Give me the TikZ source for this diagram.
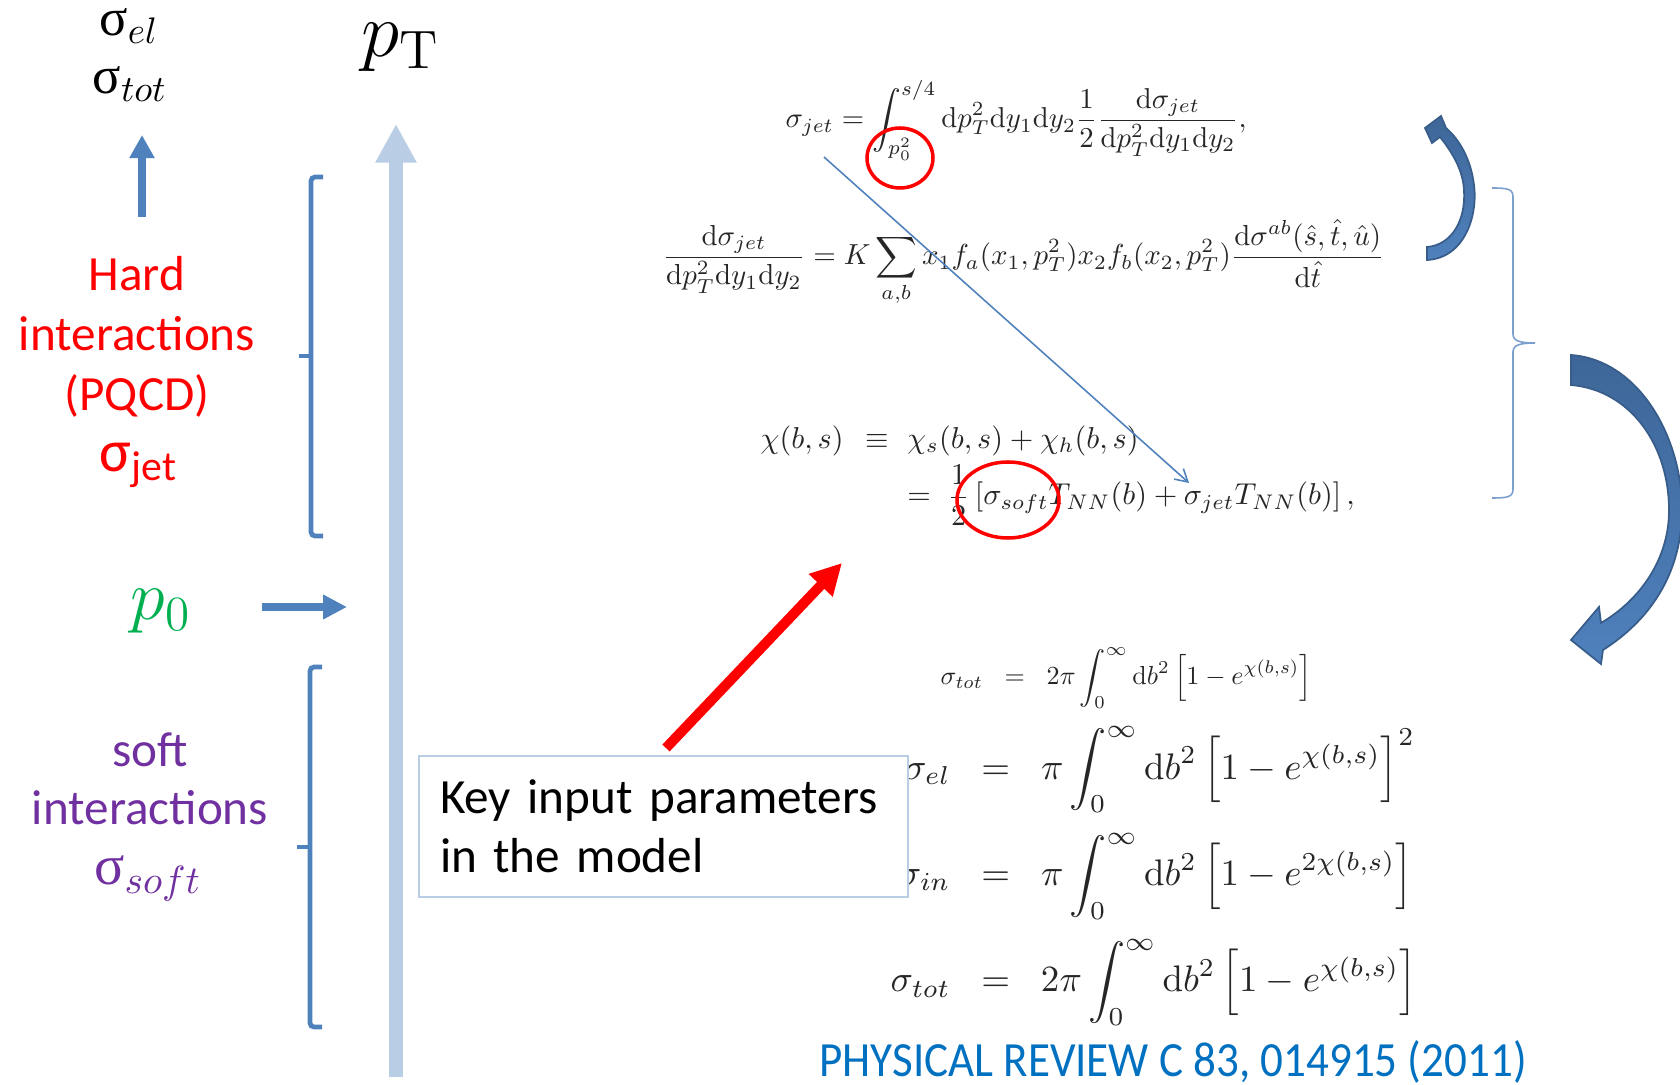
\RequirePackage{fix-cm}
\documentclass[tikz,border=0pt]{standalone}
\usepackage{amsmath}
\usepackage{graphicx}
\usepackage[no-math]{fontspec}
\setmainfont{Carlito}
\newfontfamily\grkserif{Liberation Serif}
\usetikzlibrary{arrows.meta, shapes.geometric}
\definecolor{arrowblue}{HTML}{4F81BD}
\definecolor{axisblue}{RGB}{185,205,229}
\definecolor{darkblue}{HTML}{385D8A}
\definecolor{shadeblue}{HTML}{3E6698}
\definecolor{hardred}{HTML}{FF0000}
\definecolor{softpurple}{HTML}{7030A0}
\definecolor{pzerogreen}{HTML}{00B050}
\definecolor{refblue}{HTML}{0070C0}

\begin{document}
\begin{tikzpicture}[x=0.1mm, y=-0.1mm,
    bracketline/.style={arrowblue, line width=1.35pt, rounded corners=0.4mm},
    bluearrow/.style={arrowblue, line width=2.4pt, -{Triangle[width=6.8pt,length=6.6pt]}},
    circmark/.style={ellipse, draw=hardred, line width=1pt, inner sep=0pt},
    eqnode/.style={inner sep=0pt, anchor=north west, text=black!85},
    curvearrow/.style={draw=darkblue, line width=0.5pt, top color=shadeblue, bottom color=arrowblue},
    lbl/.style={inner sep=0pt, anchor=base}]

    \useasboundingbox (0,0) rectangle (1680,1085);

    \coordinate (axisfoot) at (396,1077);
    \coordinate (axistop) at (396,124);
    \draw[axisblue, line width=3.7pt, -{Triangle[width=11pt,length=11pt]}] (axisfoot) -- (axistop);
    \node[lbl, font=\fontsize{22}{26}\selectfont] (pT) at (401,57) {$p_{\mathrm{T}}$};

    \node[lbl, font=\fontsize{15}{18}\selectfont] (sigel) at (129,36) {{\grkserif σ}$_{el}$};
    \node[lbl, font=\fontsize{15}{18}\selectfont] (sigtot) at (130,94) {{\grkserif σ}$_{tot}$};
    \coordinate (upfoot) at (142,217);
    \coordinate (uptip) at (142,135);
    \draw[bluearrow] (upfoot) -- (uptip);

    \node[inner sep=0pt, anchor=north, align=center, text=hardred, font=\fontsize{14}{17}\selectfont] (hardtxt) at (137,256) {Hard\\interactions\\(PQCD)};
    \node[lbl, text=hardred, font=\fontsize{17}{20}\selectfont] (sigjet) at (139,472) {σ$_{\text{jet}}$};
    \draw[bracketline] (323,177) -- (311,177) -- (311,536) -- (323,536);
    \draw[bracketline] (311,356) -- (299,356);

    \node[lbl, text=pzerogreen, font=\fontsize{20}{24}\selectfont] (pzero) at (161,620) {$p_0$};
    \coordinate (rightfoot) at (262,607);
    \coordinate (righttip) at (347,607);
    \draw[bluearrow, -{Triangle[width=6.6pt,length=6.8pt]}] (rightfoot) -- (righttip);

    \node[inner sep=0pt, anchor=north, align=center, text=softpurple, font=\fontsize{14}{16.5}\selectfont] (softtxt) at (150,732) {soft\\interactions};
    \node[lbl, text=softpurple, font=\fontsize{16}{19}\selectfont] (sigsoft) at (148,885) {{\grkserif σ}$_{soft}$};
    \draw[bracketline] (322,667) -- (310,667) -- (310,1027) -- (322,1027);
    \draw[bracketline] (310,847) -- (297,847);

    \node[eqnode] (eqjet) at (785,80) {\resizebox{46.1mm}{!}{$\displaystyle
      \sigma_{jet}=\int_{p_0^2}^{s/4}\mathrm{d}p_T^2\mathrm{d}y_1\mathrm{d}y_2\frac{1}{2}\frac{\mathrm{d}\sigma_{jet}}{\mathrm{d}p_T^2\mathrm{d}y_1\mathrm{d}y_2},$}};
    \node[eqnode] (eqdiff) at (662,219) {\resizebox{72.2mm}{!}{$\displaystyle
      \frac{\mathrm{d}\sigma_{jet}}{\mathrm{d}p_T^2\mathrm{d}y_1\mathrm{d}y_2}=K\sum_{a,b}x_1f_a(x_1,p_T^2)x_2f_b(x_2,p_T^2)\frac{\mathrm{d}\sigma^{ab}(\hat{s},\hat{t},\hat{u})}{\mathrm{d}\hat{t}}$}};
    \node[eqnode] (eqchi) at (760,422) {\resizebox{59.4mm}{!}{$\begin{array}{@{}l@{}l@{}}
      \chi(b,s)\;\,\equiv\;\,\, & \chi_s(b,s)+\chi_h(b,s)\\[2pt]
      & =\;\displaystyle\frac{1}{2}\,[\sigma_{soft}T_{NN}(b)+\sigma_{jet}T_{NN}(b)]\,,
      \end{array}$}};
    \node[eqnode] (eqtotA) at (940,647) {\resizebox{37.1mm}{!}{$\displaystyle
      \sigma_{tot}\;\;=\;\;2\pi\int_0^\infty\mathrm{d}b^2\left[1-e^{\chi(b,s)}\right]$}};
    \node[eqnode] (eqcross) at (890,726) {\resizebox{52.6mm}{!}{$\begin{array}{@{}r@{\;\;\;=\;\;\;}l@{}}
      \sigma_{el} & \pi\displaystyle\int_0^\infty\mathrm{d}b^2\left[1-e^{\chi(b,s)}\right]^2\\[11pt]
      \sigma_{in} & \pi\displaystyle\int_0^\infty\mathrm{d}b^2\left[1-e^{2\chi(b,s)}\right]\\[11pt]
      \sigma_{tot} & 2\pi\displaystyle\int_0^\infty\mathrm{d}b^2\left[1-e^{\chi(b,s)}\right]
      \end{array}$}};

    \node[circmark, minimum width=6.6mm, minimum height=6mm] (circA) at (900,158) {};
    \node[circmark, minimum width=10.2mm, minimum height=7.6mm] (circB) at (1008,500) {};
    \coordinate (lineA) at (824,157);
    \coordinate (lineB) at (1189,483);
    \draw[arrowblue, line width=0.45pt, -{Straight Barb[angle=60:4pt]}] (lineA) -- (lineB);

    \node[draw=axisblue, line width=0.6pt, fill=white, minimum width=48.9mm, minimum height=14.1mm,
      text width=44.7mm, align=left, inner xsep=2.1mm, font=\fontsize{14}{16.8}\selectfont] (key) at (663.5,826.5)
      {Key input parameters\\in the model};
    \coordinate (redtail) at (666,748);
    \coordinate (redtip) at (842,563);
    \draw[hardred, line width=2.85pt, -{Triangle[width=8.8pt,length=8.8pt]}] (redtail) -- (redtip);

    \draw[arrowblue!75, line width=0.45pt] (1492,188) .. controls (1508,188) and (1513,189) .. (1513,197) -- (1513,334)
      .. controls (1513,341) and (1520,343) .. (1535,343) .. controls (1520,343) and (1513,345) .. (1513,352)
      -- (1513,489) .. controls (1513,497) and (1508,498) .. (1492,498);

    \fill[curvearrow] (1427,260) .. controls (1465,258) and (1478,215) .. (1474,185)
      .. controls (1471,160) and (1460,140) .. (1446,128) -- (1441,116) -- (1425,128) -- (1432,143) -- (1440,137)
      .. controls (1452,152) and (1463,170) .. (1464,190) .. controls (1466,220) and (1452,245) .. (1427,247) -- cycle;
    \fill[curvearrow] (1571,355) .. controls (1640,360) and (1684,440) .. (1682,515)
      .. controls (1680,575) and (1650,620) .. (1603,650) -- (1601,664) -- (1571,640) -- (1599,607) -- (1601,623)
      .. controls (1640,600) and (1668,560) .. (1669,513) .. controls (1670,445) and (1630,390) .. (1571,385) -- cycle;

    \node[lbl, text=refblue, font=\fontsize{14}{17}\selectfont] (ref) at (1173,1077) {\scalebox{0.916}[1]{PHYSICAL REVIEW C 83, 014915 (2011)}};
\end{tikzpicture}
\end{document}
